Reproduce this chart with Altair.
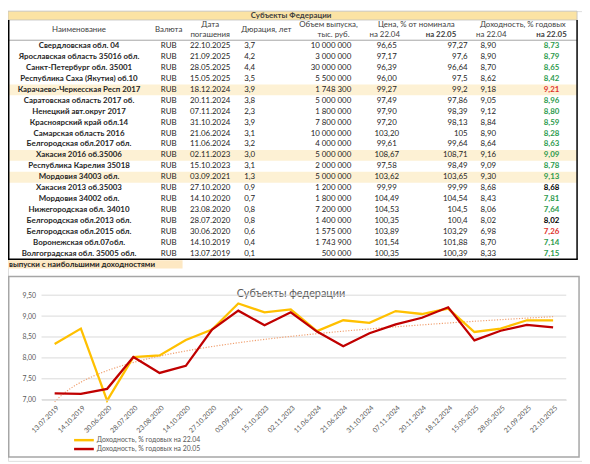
import json
import altair as alt
import pandas as pd

# ---------------- data ----------------
names = ["Свердловская обл. 04", "Ярославская область 35016 обл.", "Санкт-Петербург обл. 35001",
         "Республика Саха (Якутия) об.10", "Карачаево-Черкесская Респ 2017", "Саратовская область 2017 об.",
         "Ненецкий авт.округ 2017", "Красноярский край  обл.14", "Самарская область 2016",
         "Белгородская обл.2017 обл.", "Хакасия 2016 об.35006", "Республика Карелия 35018",
         "Мордовия 34003 обл.", "Хакасия 2013 об.35003", "Мордовия 34002 обл.", "Нижегородская обл. 34010",
         "Белгородская обл.2013 обл.", "Белгородская обл.2015 обл.", "Воронежская обл.07обл.",
         "Волгоградская обл. 35005 обл."]
currency = ["RUB"] * 20
maturity = ["22.10.2025", "21.09.2025", "28.05.2025", "15.05.2025", "18.12.2024", "20.11.2024",
            "07.11.2024", "31.10.2024", "21.06.2024", "11.06.2024", "02.11.2023", "15.10.2023",
            "03.09.2021", "27.10.2020", "14.10.2020", "23.08.2020", "28.07.2020", "30.06.2020",
            "14.10.2019", "13.07.2019"]
duration = [3.7, 4.2, 4.4, 3.5, 3.9, 3.8, 2.3, 3.9, 3.1, 3.2, 3.0, 3.1, 1.3, 0.9, 0.7, 0.8, 0.8, 0.6, 0.4, 0.1]
volume = [10000000, 3000000, 30000000, 5500000, 1748300, 5000000, 1800000, 7800000, 10000000, 4000000,
          5000000, 2000000, 5000000, 1200000, 1800000, 7200000, 1400000, 1575000, 1743900, 500000]
price_0422 = [96.65, 97.17, 96.39, 96.00, 99.27, 97.49, 97.90, 97.20, 103.20, 99.61,
              108.67, 97.58, 103.62, 99.99, 104.49, 104.53, 100.35, 103.89, 101.54, 100.35]
price_0522 = [97.27, 97.6, 96.64, 97.5, 99.2, 97.86, 98.39, 98.13, 105, 99.64,
              108.71, 98.49, 103.65, 99.99, 104.54, 104.5, 100.4, 103.29, 101.88, 100.39]
yield_0422 = [8.90, 8.90, 8.70, 8.62, 9.18, 9.05, 9.12, 8.84, 8.90, 8.64,
              9.16, 9.09, 9.30, 8.68, 8.43, 8.06, 8.02, 6.98, 8.70, 8.33]
yield_0522 = [8.73, 8.79, 8.65, 8.42, 9.21, 8.96, 8.80, 8.59, 8.28, 8.63,
              9.09, 8.78, 9.13, 8.68, 7.81, 7.64, 8.02, 7.26, 7.14, 7.15]
highlighted = ["Карачаево-Черкесская Респ 2017", "Хакасия 2016 об.35006", "Мордовия 34003 обл."]

table_title = "Субъекты Федерации"
section_label = "выпуски с наибольшими доходностями"
chart_title = "Субъекты федерации"
series_labels = ["Доходность, % годовых на 22.04", "Доходность, % годовых на 20.05"]
y_ticks = [7.0, 7.5, 8.0, 8.5, 9.0, 9.5]

# ---------------- styles / layout ----------------
FONT = "Lato"
TXT = "#262626"
GRAY = "#595959"
YELLOW = "#FFC000"
DARKRED = "#C00000"
SERIES_COLORS = [YELLOW, DARKRED]
GREEN = "#2E9B4E"
RED = "#E0312B"
W, H = 582, 456


def comma(v, d):
    return f"{v:.{d}f}".replace(".", ",")


def general(v):
    s = f"{v:.2f}".rstrip("0").rstrip(".")
    return s.replace(".", ",")


def spaced(v):
    return f"{v:,}".replace(",", " ")


n = len(names)
table = pd.DataFrame({
    "row": list(range(1, n + 1)),
    "name": names,
    "cur": currency,
    "date": maturity,
    "dur": [comma(v, 1) for v in duration],
    "vol": [spaced(v) for v in volume],
    "p1": [comma(v, 2) for v in price_0422],
    "p2": [general(v) for v in price_0522],
    "y1": [comma(v, 2) for v in yield_0422],
    "y2": [comma(v, 2) for v in yield_0522],
    "clr": [GREEN if b < a else (RED if b > a else "#000000") for a, b in zip(yield_0422, yield_0522)],
    "hl": [nm in highlighted for nm in names],
})

row_scale = alt.Scale(domain=[0.5, n + 0.5], range=[30, 251.5], nice=False, zero=False)
base = alt.Chart(table)
one = alt.Chart(pd.DataFrame({"k": [0]}))

layers = []
# highlighted rows
layers.append(
    base.transform_filter("datum.hl").transform_calculate(lo="datum.row - 0.5", hi="datum.row + 0.5")
    .mark_rect(color="#FDF1D4")
    .encode(y=alt.Y("lo:Q", scale=row_scale, axis=None), y2="hi:Q", x=alt.value(0), x2=alt.value(577))
)
# title bar
layers.append(one.mark_rect(fill="#FBE3A4", stroke="#BFBFBF", strokeWidth=0.8).encode(
    x=alt.value(0), x2=alt.value(577), y=alt.value(0), y2=alt.value(9)))
# header separator
layers.append(one.mark_rule(color="#A6A6A6", strokeWidth=1).encode(
    x=alt.value(0), x2=alt.value(577), y=alt.value(29.5)))
# table frame
for enc in [dict(x=alt.value(0.75), y=alt.value(9), y2=alt.value(251.5)),
            dict(x=alt.value(577), y=alt.value(9), y2=alt.value(251.5)),
            dict(x=alt.value(0), x2=alt.value(577.75), y=alt.value(251.5))]:
    layers.append(one.mark_rule(color="#000000", strokeWidth=1.5).encode(**enc))

# header labels
headers = [
    (table_title, 287, 4.8, "bold"),
    ("Наименование", 72, 19, "normal"),
    ("Валюта", 163, 19, "normal"),
    ("Дата", 205, 14, "normal"),
    ("погашения", 205, 24, "normal"),
    ("Дюрация, лет", 262, 19, "normal"),
    ("Объем выпуска,", 325, 14, "normal"),
    ("тыс. руб.", 330, 24, "normal"),
    ("Цена, % от номинала", 414, 14, "normal"),
    ("на 22.04", 382, 24, "normal"),
    ("на 22.05", 439, 24, "bold"),
    ("Доходность, % годовых", 522, 14, "normal"),
    ("на 22.04", 490, 24, "normal"),
    ("на 22.05", 551, 24, "bold"),
]
for txt, hx, hy, fw in headers:
    layers.append(one.mark_text(font=FONT, fontSize=8, fontWeight=fw, color="#404040",
                                align="center", baseline="middle")
                  .encode(x=alt.value(hx), y=alt.value(hy), text=alt.value(txt)))

# table cells
cols = [
    ("name", 72, "center", "bold", None),
    ("cur", 163, "center", "normal", None),
    ("date", 205, "center", "normal", None),
    ("dur", 245, "center", "normal", None),
    ("vol", 348, "right", "normal", None),
    ("p1", 384, "center", "normal", None),
    ("p2", 466, "right", "normal", None),
    ("y1", 487, "center", "normal", None),
    ("y2", 559, "right", "bold", "clr"),
]
for field, cx, al, fw, cfield in cols:
    enc = dict(y=alt.Y("row:Q", scale=row_scale, axis=None), x=alt.value(cx), text=f"{field}:N")
    if cfield:
        enc["color"] = alt.Color(f"{cfield}:N", scale=None)
    layers.append(base.mark_text(font=FONT, fontSize=8, fontWeight=fw, color=TXT,
                                 align=al, baseline="middle").encode(**enc))

# section label
layers.append(one.mark_rect(fill="#FDE8C3").encode(
    x=alt.value(0), x2=alt.value(177), y=alt.value(252.5), y2=alt.value(261)))
layers.append(one.mark_text(font=FONT, fontSize=8, fontWeight="bold", color=TXT, align="left",
                            baseline="middle").encode(x=alt.value(1), y=alt.value(257), text=alt.value(section_label)))
# chart frame
layers.append(one.mark_rect(fill="transparent", stroke="#A6A6A6", strokeWidth=1.5).encode(
    x=alt.value(0.75), x2=alt.value(579), y=alt.value(269), y2=alt.value(452)))
layers.append(one.mark_text(font=FONT, fontSize=11, color=GRAY, align="center", baseline="middle").encode(
    x=alt.value(287), y=alt.value(287), text=alt.value(chart_title)))

# legend (drawn)
for i, lab in enumerate(series_labels):
    ly = 435 + 9 * i
    layers.append(one.mark_rule(color=SERIES_COLORS[i], strokeWidth=2.5).encode(
        x=alt.value(67), x2=alt.value(87), y=alt.value(ly)))
    layers.append(one.mark_text(font=FONT, fontSize=7, color=GRAY, align="left", baseline="middle").encode(
        x=alt.value(90), y=alt.value(ly), text=alt.value(lab)))

table_layer = alt.layer(*layers)

# ---------------- line chart ----------------
chart_dates = maturity[::-1]
long = pd.DataFrame({
    "idx": list(range(1, n + 1)) * 2,
    "series": [series_labels[0]] * n + [series_labels[1]] * n,
    "value": yield_0422[::-1] + yield_0522[::-1],
})
grid_df = pd.DataFrame({"value": y_ticks})

xs = alt.Scale(domain=[0.5, n + 0.5], range=[34, 566], nice=False, zero=False)
ys = alt.Scale(domain=[7, 9.5], range=[394, 288], nice=False, zero=False)
x_axis = alt.Axis(orient="bottom", offset=-62, values=list(range(1, n + 1)),
                  labelExpr=json.dumps(chart_dates, ensure_ascii=False) + "[datum.value - 1]",
                  labelAngle=-45, grid=False, ticks=False, domain=True, domainColor="#D9D9D9",
                  labelFont=FONT, labelFontSize=7, labelColor=GRAY, labelPadding=4,
                  labelOverlap=False, labelFlush=False, labelBound=False, title=None, zindex=1)
y_axis = alt.Axis(orient="left", offset=-34, values=y_ticks,
                  labelExpr="replace(format(datum.value, '.2f'), '.', ',')",
                  grid=False, ticks=False, domain=False, labelFont=FONT, labelFontSize=7,
                  labelColor=GRAY, labelPadding=6, title=None, zindex=1)

grid = alt.Chart(grid_df).mark_rule(color="#D9D9D9", strokeWidth=1).encode(
    y=alt.Y("value:Q", scale=ys, axis=y_axis), x=alt.value(34), x2=alt.value(566))

lines = alt.Chart(long).mark_line(strokeWidth=2.3).encode(
    x=alt.X("idx:Q", scale=xs, axis=x_axis),
    y=alt.Y("value:Q", scale=ys, axis=y_axis),
    color=alt.Color("series:N", scale=alt.Scale(domain=series_labels, range=SERIES_COLORS), legend=None),
    detail="series:N",
)

trend = alt.Chart(long).transform_filter(
    alt.datum.series == series_labels[1]
).transform_regression("idx", "value", method="log").mark_line(
    color="#F0A070", strokeDash=[1.2, 1.6], strokeWidth=1.2
).encode(x=alt.X("idx:Q", scale=xs, axis=x_axis), y=alt.Y("value:Q", scale=ys, axis=y_axis))

chart_layer = alt.layer(grid, trend, lines)

chart = alt.layer(table_layer, chart_layer).resolve_scale(
    x="independent", y="independent"
).properties(
    width=W, height=H, padding=0, autosize=alt.AutoSizeParams(type="none")
).configure_view(stroke=None).configure(background="#FFFFFF")

chart.save("out.html", embed_options={"renderer": "svg", "actions": False})
